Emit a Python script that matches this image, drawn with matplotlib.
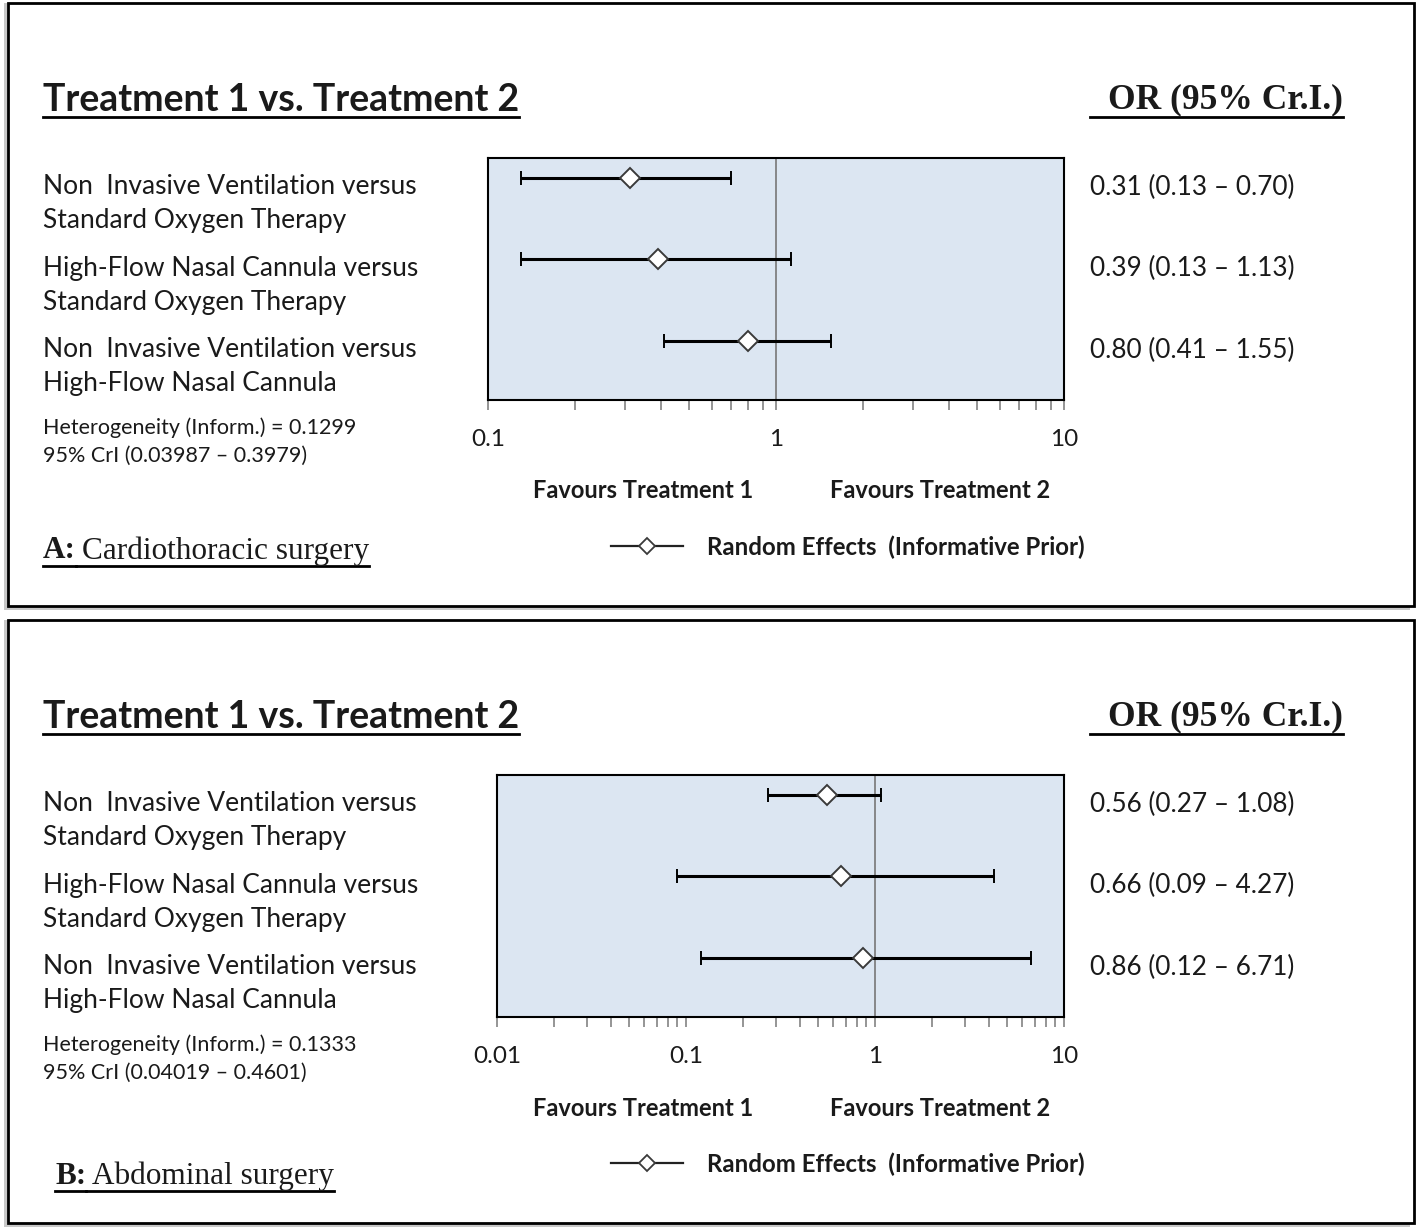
"""Two-panel forest plot (odds ratios with 95% credible intervals)."""

import matplotlib as mpl
import matplotlib.pyplot as plt
import numpy as np
from matplotlib import transforms
from matplotlib.lines import Line2D
from matplotlib.patches import Rectangle
from matplotlib.ticker import LogLocator, NullFormatter

mpl.rcParams.update({
    "font.family": "Lato",
    "axes.linewidth": 1.5,
})

W, H = 1418, 1232
SANS = "Lato"
SERIF = "Liberation Serif"
PLOT_BG = "#dce6f2"
TXT = "#1a1a1a"

# ---------- data ----------
comparisons = [
    ("Non  Invasive Ventilation versus", "Standard Oxygen Therapy"),
    ("High-Flow Nasal Cannula versus", "Standard Oxygen Therapy"),
    ("Non  Invasive Ventilation versus", "High-Flow Nasal Cannula"),
]

or_cardio = [0.31, 0.39, 0.80]
lo_cardio = [0.13, 0.13, 0.41]
hi_cardio = [0.70, 1.13, 1.55]
het_cardio = [0.1299, 0.03987, 0.3979]

or_abdo = [0.56, 0.66, 0.86]
lo_abdo = [0.27, 0.09, 0.12]
hi_abdo = [1.08, 4.27, 6.71]
het_abdo = [0.1333, 0.04019, 0.4601]

ticks_cardio = [0.1, 1, 10]
ticklabels_cardio = ["0.1", "1", "10"]
ticks_abdo = [0.01, 0.1, 1, 10]
ticklabels_abdo = ["0.01", "0.1", "1", "10"]

fig = plt.figure(figsize=(W / 100, H / 100), dpi=100)


def fx(px):
    return px / W


def fy(py):
    return 1 - py / H


underlines = []  # (text artist, y pixel, x-start override or None)


def _panel(dy, ax_left, odds, lo, hi, het, ticks, ticklabels, letter, surgery,
           label_x, label_y):
    # panel frame with soft shadow
    fig.add_artist(Rectangle((fx(4), fy(dy + 610)), fx(1410) - fx(4), 607 / H,
                             transform=fig.transFigure, facecolor="#c8c8c8",
                             edgecolor="none", zorder=-2))
    fig.add_artist(Rectangle((fx(8), fy(dy + 606)), fx(1414) - fx(8), 603 / H,
                             transform=fig.transFigure, facecolor="white",
                             edgecolor="black", linewidth=2, zorder=-1))

    ax = fig.add_axes([fx(ax_left), fy(dy + 400), fx(1064) - fx(ax_left), 242 / H])
    ax.set_facecolor(PLOT_BG)
    y = np.arange(len(odds), 0, -1)
    odds = np.array(odds); lo = np.array(lo); hi = np.array(hi)
    ax.axvline(1, color="#808080", linewidth=1.3, zorder=1)
    ax.errorbar(odds, y, xerr=[odds - lo, hi - odds], fmt="D", color="black",
                ecolor="black", elinewidth=2.2, capsize=5, capthick=2.2,
                mfc="white", mec="#3a3a3a", mew=1.4, ms=10.5, zorder=3)
    ax.set_xscale("log")
    ax.set_xlim(ticks[0], ticks[-1])
    ax.set_ylim(0.276, 3.245)
    ax.set_yticks([])
    ax.set_xticks(ticks, ticklabels)
    ax.xaxis.set_minor_locator(LogLocator(base=10, subs=np.arange(2, 10)))
    ax.xaxis.set_minor_formatter(NullFormatter())
    ax.tick_params(axis="x", which="both", direction="out", length=7, width=1.3,
                   color="#8c8c8c", labelsize=17.5, pad=14, labelcolor=TXT)
    for spine in ax.spines.values():
        spine.set_color("black")

    # header texts
    t = fig.text(fx(43), fy(dy + 100), "Treatment 1 vs. Treatment 2", fontsize=27,
                 fontweight="bold", family=SANS, va="center", ha="left", color=TXT)
    underlines.append((t, dy + 117, None))
    t = fig.text(fx(1343), fy(dy + 100), "OR (95% Cr.I.)", fontsize=25.5,
                 fontweight="bold", family=SERIF, va="center", ha="right", color=TXT)
    underlines.append((t, dy + 117, 1090))

    # row labels and OR values, anchored to each row's data position
    trans = transforms.blended_transform_factory(fig.transFigure, ax.transData)
    for yi, (l1, l2), o, a, b in zip(y, comparisons, odds, lo, hi):
        off1 = transforms.offset_copy(trans, fig=fig, y=-9, units="dots")
        off2 = transforms.offset_copy(trans, fig=fig, y=-43, units="dots")
        fig.text(fx(43), yi, l1, transform=off1, fontsize=19, va="center", color=TXT)
        fig.text(fx(43), yi, l2, transform=off2, fontsize=19, va="center", color=TXT)
        fig.text(fx(1090), yi, f"{o:.2f} ({a:.2f} \u2013 {b:.2f})", transform=off1,
                 fontsize=18.8, va="center", color=TXT)

    fig.text(fx(43), fy(dy + 428), f"Heterogeneity (Inform.) = {het[0]}", fontsize=15.5,
             va="center", color=TXT)
    fig.text(fx(43), fy(dy + 456), f"95% CrI ({het[1]} \u2013 {het[2]})", fontsize=15.5,
             va="center", color=TXT)

    fig.text(fx(643), fy(dy + 491), "Favours Treatment 1", fontsize=17, fontweight="bold",
             ha="center", va="center", color=TXT)
    fig.text(fx(940), fy(dy + 491), "Favours Treatment 2", fontsize=17, fontweight="bold",
             ha="center", va="center", color=TXT)

    handle = Line2D([], [], color="#222222", linewidth=1.6, marker="D", ms=8,
                    mfc="white", mec="#3a3a3a", mew=1.3)
    fig.legend([handle], ["Random Effects  (Informative Prior)"], loc="center left",
               bbox_to_anchor=(fx(611), fy(dy + 547)), frameon=False, borderpad=0,
               borderaxespad=0, handlelength=3.0, handletextpad=1.0,
               prop={"family": SANS, "weight": "bold", "size": 17.3}, labelcolor=TXT)

    # panel caption, e.g. "A: Cardiothoracic surgery"
    t1 = fig.text(fx(label_x), fy(dy + label_y), f"{letter}:", fontsize=22.5,
                  fontweight="bold", family=SERIF, va="center", color=TXT)
    underlines.append((t1, dy + label_y + 15, None))
    fig.canvas.draw()
    bb = t1.get_window_extent()
    t2 = fig.text(fx(bb.x1) + fx(6), fy(dy + label_y), surgery, fontsize=22.5,
                  family=SERIF, va="center", color=TXT)
    underlines.append((t2, dy + label_y + 15, bb.x1))
    return ax


_panel(0, 488, or_cardio, lo_cardio, hi_cardio, het_cardio, ticks_cardio,
       ticklabels_cardio, "A", "Cardiothoracic surgery", 43, 551)
_panel(617, 497, or_abdo, lo_abdo, hi_abdo, het_abdo, ticks_abdo,
       ticklabels_abdo, "B", "Abdominal surgery", 55, 559)

fig.canvas.draw()
renderer = fig.canvas.get_renderer()
for t, ypx, x0 in underlines:
    bb = t.get_window_extent(renderer)
    start = bb.x0 if x0 is None else x0
    fig.add_artist(Line2D([fx(start), fx(bb.x1)], [fy(ypx), fy(ypx)],
                          transform=fig.transFigure, color="black", linewidth=2))

fig.savefig("out.png", dpi=100)
